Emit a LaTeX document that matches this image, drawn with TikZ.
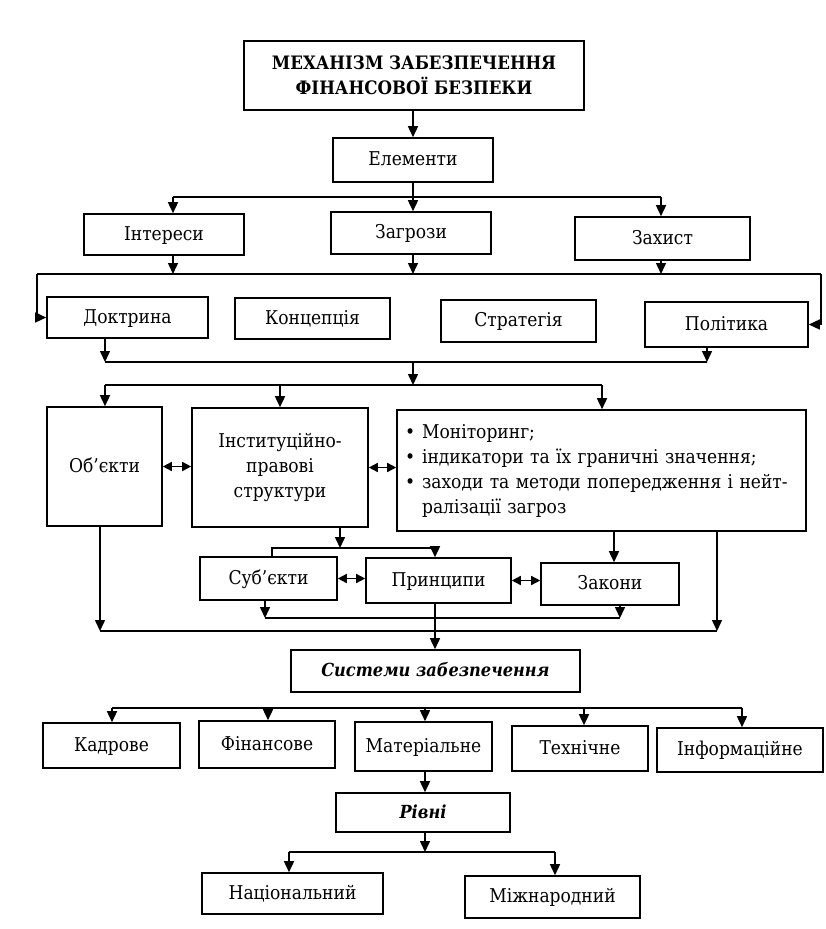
\documentclass[tikz,border=0pt]{standalone}
\usepackage{fontspec}
\setmainfont{DejaVu Serif Condensed}
\usetikzlibrary{arrows.meta}
\newcommand\bx[7][]{\node[box,minimum width=#5pt,minimum height=#6pt,#1] (#2) at (#3,#4) {#7};}
\begin{document}
\begin{tikzpicture}[x=1pt,y=-1pt,
  box/.style={draw, line width=1.6pt, inner sep=2pt, align=center, font=\fontsize{19}{24}\selectfont, text height=12pt, text depth=1pt},
  bld/.style={font=\fontsize{18.5}{25}\selectfont\bfseries},
  bit/.style={font=\fontsize{18}{24}\selectfont\bfseries\itshape},
  ln/.style={line width=1.5pt},
  arr/.style={line width=1.5pt, -{Triangle[length=11pt,width=10pt]}},
  darr/.style={line width=1.5pt, {Triangle[length=9pt,width=9pt]}-{Triangle[length=9pt,width=9pt]}}]
\useasboundingbox (0,0) rectangle (825,929);

% boxes
\node[draw, line width=1.6pt, align=center, bld, minimum width=340pt, minimum height=69pt] (title) at (414,75.5) {МЕХАНІЗМ ЗАБЕЗПЕЧЕННЯ\\ФІНАНСОВОЇ БЕЗПЕКИ};
\bx{elem}{413}{160}{160}{44}{Елементи}
\bx{inter}{164}{234.5}{160}{41}{Інтереси}
\bx{zagr}{411}{233}{160}{42}{Загрози}
\bx{zakh}{662.5}{238.5}{175}{43}{Захист}
\bx{dokt}{127.5}{317.5}{161}{41}{Доктрина}
\bx{konc}{312.5}{318.5}{155}{41}{Концепція}
\bx{strat}{518.5}{321}{155}{42}{Стратегія}
\bx{polit}{726.5}{324.5}{163}{45}{Політика}
\bx{obj}{104.5}{466.5}{115}{119}{Об’єкти}
\node[draw, line width=1.6pt, align=center, font=\fontsize{19}{25}\selectfont, minimum width=176pt, minimum height=119pt] (inst) at (280,467.5) {Інституційно-\\правові\\структури};
\node[draw, line width=1.6pt, font=\fontsize{19}{25}\selectfont, minimum width=409pt, minimum height=121pt, text width=393pt, align=left] (list) at (601.5,470.5)
  {\begin{tabular}{@{}l@{\hspace{7pt}}l@{}}
   • & Моніторинг;\\
   • & індикатори та їх граничні значення;\\
   • & заходи та методи попередження і нейт-\\
     & ралізації загроз
   \end{tabular}};
\bx{subj}{268.5}{578.5}{137}{43}{Суб’єкти}
\bx{princ}{438.5}{580.5}{145}{45}{Принципи}
\bx{zakony}{610}{584}{138}{42}{Закони}
\bx[bit]{syst}{435.5}{671}{289}{42}{Системи забезпечення}
\bx{kadr}{111.5}{745.5}{137}{45}{Кадрове}
\bx{fin}{267}{744.5}{136}{47}{Фінансове}
\bx{mat}{423.5}{746.5}{137}{49}{Матеріальне}
\bx{tech}{580}{748.5}{136}{45}{Технічне}
\bx{inf}{740}{750}{166}{44}{Інформаційне}
\bx[bit]{rivni}{423}{812.5}{174}{39}{Рівні}
\bx{nats}{292.5}{893.5}{181}{41}{Національний}
\bx{mizh}{552.5}{897}{175}{42}{Міжнародний}

% junction coordinates
\coordinate (e0) at (413,197);
\coordinate (e1) at (173,197);
\coordinate (e2) at (661,197);
\coordinate (f1) at (173,274);
\coordinate (f2) at (413,274);
\coordinate (f3) at (661,274);
\coordinate (fL) at (37,274);
\coordinate (fR) at (821,274);
\coordinate (g0) at (413,362);
\coordinate (g1) at (105,362);
\coordinate (g2) at (707,362);
\coordinate (h0) at (413,385);
\coordinate (h1) at (105,385);
\coordinate (h2) at (280,385);
\coordinate (h3) at (602,385);
\coordinate (k0) at (340,548);
\coordinate (k1) at (272,548);
\coordinate (k2) at (435,548);
\coordinate (m1) at (614,531);
\coordinate (n0) at (435,618);
\coordinate (n1) at (265,618);
\coordinate (n2) at (620,618);
\coordinate (p1) at (100,631);
\coordinate (p2) at (717,631);
\coordinate (q1) at (112,708);
\coordinate (q2) at (268,708);
\coordinate (q3) at (425,708);
\coordinate (q4) at (584,708);
\coordinate (q5) at (742,708);
\coordinate (r0) at (425,771);
\coordinate (s0) at (425,852);
\coordinate (s1) at (289,852);
\coordinate (s2) at (555,852);

% connectors
\draw[arr] (title.south -| e0) -- (e0 |- elem.north);
\draw[arr] (elem.south -| e0) -- (e0 |- zagr.north);
\draw[ln] (e1) -- (e2);
\draw[arr] (e1) -- (e1 |- inter.north);
\draw[arr] (e2) -- (e2 |- zakh.north);

\draw[arr] (inter.south -| f1) -- (f1);
\draw[arr] (zagr.south -| f2) -- (f2);
\draw[arr] (zakh.south -| f3) -- (f3);
\draw[ln] (fL) -- (fR);
\draw[arr] (fL) |- (dokt.west);
\draw[arr] (fR) |- (polit.east);

\draw[arr] (dokt.south -| g1) -- (g1);
\draw[arr] (polit.south -| g2) -- (g2);
\draw[ln] (g1) -- (g2);
\draw[arr] (g0) -- (h0);
\draw[ln] (h1) -- (h3);
\draw[arr] (h1) -- (h1 |- obj.north);
\draw[arr] (h2) -- (h2 |- inst.north);
\draw[arr] (h3) -- (h3 |- list.north);

\draw[darr] (obj.east) -- (obj.east -| inst.west);
\draw[darr] (inst.east) -- (inst.east -| list.west);

\draw[arr] (inst.south -| k0) -- (k0);
\draw[ln] (k1 |- subj.north) -- (k1) -- (k2);
\draw[arr] (k2) -- (k2 |- princ.north);
\draw[arr] (list.south -| m1) -- (m1 |- zakony.north);

\draw[darr] (subj.east) -- (subj.east -| princ.west);
\draw[darr] (princ.east) -- (princ.east -| zakony.west);

\draw[arr] (subj.south -| n1) -- (n1);
\draw[arr] (zakony.south -| n2) -- (n2);
\draw[ln] (n1) -- (n2);
\draw[arr] (obj.south -| p1) -- (p1);
\draw[arr] (list.south -| p2) -- (p2);
\draw[ln] (p1) -- (p2);
\draw[arr] (princ.south -| n0) -- (n0 |- syst.north);

\draw[ln] (q1) -- (q5);
\draw[arr] (q1) -- (q1 |- kadr.north);
\draw[arr] (q2) -- (q2 |- fin.north);
\draw[arr] (q3) -- (q3 |- mat.north);
\draw[arr] (q4) -- (q4 |- tech.north);
\draw[arr] (q5) -- (q5 |- inf.north);

\draw[arr] (mat.south -| r0) -- (r0 |- rivni.north);
\draw[arr] (rivni.south -| s0) -- (s0);
\draw[ln] (s1) -- (s2);
\draw[arr] (s1) -- (s1 |- nats.north);
\draw[arr] (s2) -- (s2 |- mizh.north);
\end{tikzpicture}
\end{document}
